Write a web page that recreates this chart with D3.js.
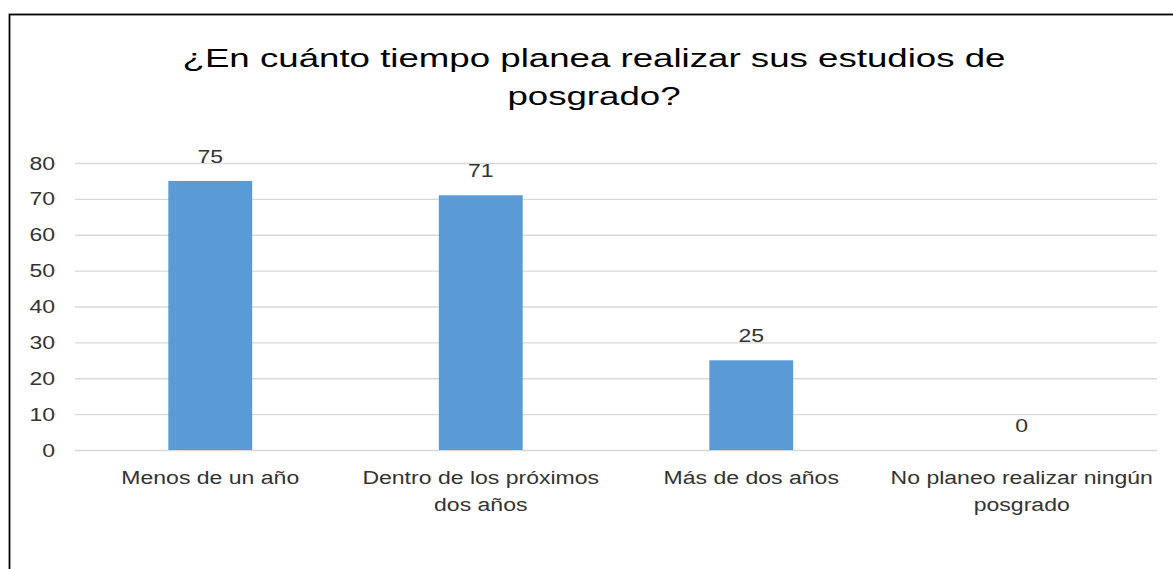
<!DOCTYPE html>
<html lang="es">
<head>
  <meta charset="UTF-8" />
  <title>Posgrado</title>
  <script src="https://d3js.org/d3.v7.min.js"></script>
  <style>
    body { margin: 0; background: #fff; }
    svg text { font-family: "Liberation Sans", Arial, sans-serif; fill: #333; }
  </style>
</head>
<body>
<svg id="chart" width="1173" height="569"></svg>
<script>
const titleLines = ["¿En cuánto tiempo planea realizar sus estudios de", "posgrado?"];
const categories = ["Menos de un año", "Dentro de los próximos dos años", "Más de dos años", "No planeo realizar ningún posgrado"];
const categoryLines = [["Menos de un año"], ["Dentro de los próximos", "dos años"], ["Más de dos años"], ["No planeo realizar ningún", "posgrado"]];
const values = [75, 71, 25, 0];
const yTicks = [0, 10, 20, 30, 40, 50, 60, 70, 80];

const sx = 1.28; // reference text is stretched horizontally
const svg = d3.select("#chart");
const margin = {top: 163, right: 16, bottom: 119, left: 75};
const width = +svg.attr("width"), height = +svg.attr("height");

// frame
svg.append("rect")
  .attr("x", 9.5).attr("y", 14.5)
  .attr("width", 1200).attr("height", 600)
  .attr("fill", "none").attr("stroke", "#000").attr("stroke-width", 1.8);

const x = d3.scaleBand().domain(categories)
  .range([margin.left, width - margin.right])
  .paddingInner(0.69).paddingOuter(0.345);
const y = d3.scaleLinear().domain([0, 80]).range([height - margin.bottom, margin.top]);

// gridlines
svg.append("g")
  .selectAll("line")
  .data(yTicks)
  .join("line")
  .attr("x1", margin.left).attr("x2", width - margin.right)
  .attr("y1", d => y(d) + 0.5).attr("y2", d => y(d) + 0.5)
  .attr("stroke", "#d9d9d9").attr("stroke-width", 1.3);

// y tick labels
svg.append("g")
  .selectAll("text")
  .data(yTicks)
  .join("text")
  .attr("transform", d => `translate(55,${y(d) + 6.5}) scale(${sx},1)`)
  .attr("text-anchor", "end")
  .attr("font-size", 18)
  .text(d => d);

// bars
svg.append("g")
  .selectAll("rect")
  .data(values)
  .join("rect")
  .attr("x", (d, i) => x(categories[i]))
  .attr("y", d => y(d))
  .attr("width", x.bandwidth())
  .attr("height", d => y(0) - y(d))
  .attr("fill", "#5b9bd5");

// data labels
svg.append("g")
  .selectAll("text")
  .data(values)
  .join("text")
  .attr("transform", (d, i) => `translate(${x(categories[i]) + x.bandwidth() / 2},${y(d) - 18}) scale(${sx},1)`)
  .attr("text-anchor", "middle")
  .attr("font-size", 18)
  .text(d => d);

// category labels
const cat = svg.append("g")
  .selectAll("g")
  .data(categoryLines)
  .join("g")
  .attr("transform", (d, i) => `translate(${x(categories[i]) + x.bandwidth() / 2},${y(0) + 34}) scale(${sx},1)`);
cat.selectAll("text")
  .data(d => d)
  .join("text")
  .attr("y", (d, j) => j * 27)
  .attr("text-anchor", "middle")
  .attr("font-size", 18)
  .text(d => d);

// title
svg.append("g")
  .attr("transform", `translate(594,67) scale(1.41,1)`)
  .selectAll("text")
  .data(titleLines)
  .join("text")
  .attr("y", (d, i) => i * 38)
  .attr("text-anchor", "middle")
  .attr("font-size", 26)
  .style("fill", "#000")
  .text(d => d);
</script>
</body>
</html>
